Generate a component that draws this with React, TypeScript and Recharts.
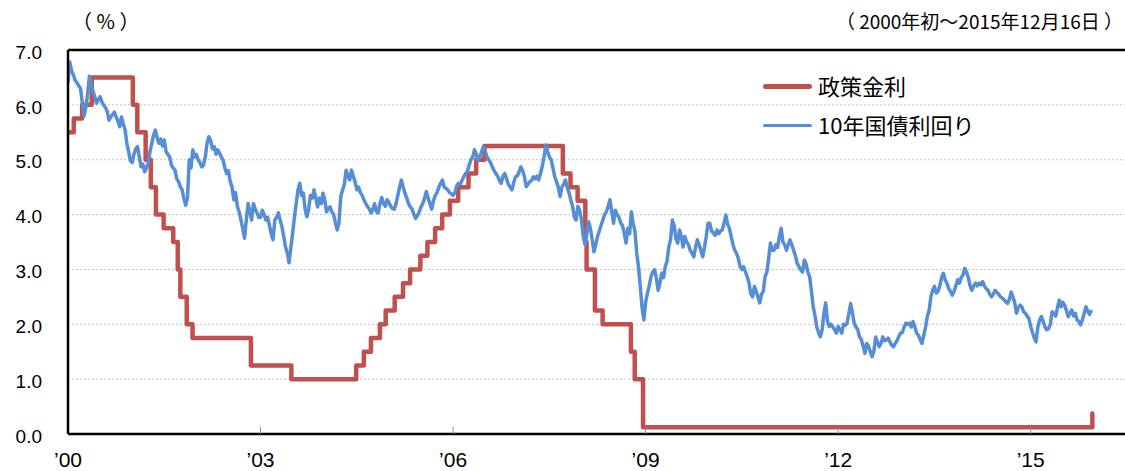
import React from 'react';
import { LineChart, Line, XAxis, YAxis, CartesianGrid, ReferenceLine } from 'recharts';

// policy rate (step changes, decimal year)
const policyDates = [
  2000.0, 2000.09, 2000.22, 2000.37, 2001.01, 2001.08, 2001.21, 2001.29, 2001.37, 2001.49,
  2001.64, 2001.71, 2001.75, 2001.85, 2001.94, 2002.85, 2003.48, 2004.49, 2004.61, 2004.72,
  2004.86, 2004.95, 2005.09, 2005.22, 2005.33, 2005.49, 2005.6, 2005.72, 2005.83, 2005.95,
  2006.08, 2006.24, 2006.36, 2006.49, 2007.71, 2007.83, 2007.94, 2008.06, 2008.08, 2008.21,
  2008.33, 2008.77, 2008.83, 2008.96, 2015.96,
];
const policyRates = [
  5.5, 5.75, 6.0, 6.5, 6.0, 5.5, 5.0, 4.5, 4.0, 3.75,
  3.5, 3.0, 2.5, 2.0, 1.75, 1.25, 1.0, 1.25, 1.5, 1.75,
  2.0, 2.25, 2.5, 2.75, 3.0, 3.25, 3.5, 3.75, 4.0, 4.25,
  4.5, 4.75, 5.0, 5.25, 4.75, 4.5, 4.25, 3.5, 3.0, 2.25,
  2.0, 1.5, 1.0, 0.125, 0.375,
];

// 10年国債利回り, three readings per month
const y2000 = [6.40, 6.78, 6.62, 6.55, 6.45, 6.40, 6.35, 6.30, 6.05, 5.80, 5.95, 6.20, 6.52, 6.40, 6.25, 6.15, 6.03, 6.10, 6.15, 6.05, 6.00, 5.95, 5.88, 5.72, 5.78, 5.82, 5.87, 5.78, 5.70, 5.60, 5.78, 5.65, 5.55, 5.30, 5.15, 4.98];
const y2001 = [4.95, 5.10, 5.20, 5.24, 5.05, 4.87, 4.92, 4.78, 4.85, 4.95, 5.15, 5.30, 5.45, 5.54, 5.40, 5.30, 5.38, 5.25, 5.36, 5.15, 5.10, 5.05, 4.90, 4.85, 4.81, 4.65, 4.60, 4.51, 4.45, 4.30, 4.17, 4.30, 5.00, 4.85, 5.18, 5.05];
const y2002 = [5.10, 5.00, 4.95, 4.87, 4.90, 5.05, 5.30, 5.42, 5.35, 5.20, 5.24, 5.10, 5.18, 5.12, 5.05, 4.99, 4.85, 4.75, 4.80, 4.60, 4.50, 4.27, 4.40, 4.15, 4.05, 3.90, 3.75, 3.57, 3.90, 4.20, 4.05, 3.90, 4.20, 4.10, 4.03, 3.95];
const y2003 = [3.95, 4.08, 4.00, 3.90, 3.95, 3.80, 3.65, 3.54, 3.90, 3.95, 4.03, 3.90, 3.78, 3.60, 3.41, 3.30, 3.12, 3.40, 3.66, 3.95, 4.20, 4.45, 4.57, 4.35, 4.39, 4.10, 3.96, 4.10, 4.35, 4.30, 4.45, 4.30, 4.14, 4.30, 4.20, 4.39];
const y2004 = [4.27, 4.05, 4.11, 4.14, 4.05, 4.00, 3.85, 3.72, 3.85, 4.33, 4.45, 4.55, 4.81, 4.70, 4.63, 4.81, 4.70, 4.60, 4.45, 4.50, 4.40, 4.35, 4.27, 4.20, 4.15, 4.10, 4.03, 4.10, 4.20, 4.05, 4.03, 4.20, 4.31, 4.20, 4.15, 4.27];
const y2005 = [4.22, 4.15, 4.11, 4.10, 4.20, 4.35, 4.50, 4.63, 4.50, 4.39, 4.30, 4.20, 4.14, 4.10, 4.00, 3.93, 3.98, 4.05, 4.14, 4.20, 4.30, 4.42, 4.30, 4.20, 4.10, 4.25, 4.35, 4.40, 4.50, 4.57, 4.63, 4.50, 4.48, 4.45, 4.40, 4.38];
const y2006 = [4.35, 4.40, 4.52, 4.57, 4.55, 4.62, 4.69, 4.75, 4.78, 4.90, 5.00, 5.05, 5.18, 5.10, 4.99, 5.05, 5.15, 5.24, 5.15, 5.05, 5.00, 4.95, 4.87, 4.80, 4.75, 4.70, 4.62, 4.57, 4.70, 4.75, 4.65, 4.55, 4.50, 4.45, 4.58, 4.69];
const y2007 = [4.70, 4.78, 4.87, 4.80, 4.70, 4.51, 4.55, 4.60, 4.62, 4.69, 4.65, 4.70, 4.63, 4.75, 4.88, 5.05, 5.27, 5.15, 5.05, 5.00, 4.85, 4.69, 4.60, 4.50, 4.33, 4.50, 4.55, 4.63, 4.50, 4.40, 4.27, 4.15, 3.95, 3.90, 4.15, 4.08];
const y2008 = [3.90, 3.60, 3.45, 3.65, 3.87, 3.75, 3.55, 3.32, 3.45, 3.60, 3.70, 3.80, 3.90, 4.00, 4.05, 4.15, 4.27, 4.05, 3.84, 4.08, 4.00, 3.95, 3.85, 3.80, 3.66, 3.48, 3.75, 3.65, 4.05, 3.84, 3.70, 3.30, 3.05, 2.69, 2.30, 2.08];
const y2009 = [2.40, 2.57, 2.70, 2.87, 2.95, 2.99, 2.85, 2.62, 2.75, 2.93, 2.85, 3.05, 3.15, 3.41, 3.55, 3.90, 3.80, 3.55, 3.48, 3.72, 3.60, 3.41, 3.60, 3.50, 3.45, 3.35, 3.30, 3.23, 3.40, 3.54, 3.45, 3.35, 3.23, 3.40, 3.60, 3.84];
const y2010 = [3.84, 3.70, 3.66, 3.62, 3.72, 3.65, 3.70, 3.72, 3.85, 3.99, 3.82, 3.75, 3.60, 3.45, 3.35, 3.29, 3.20, 3.05, 3.00, 3.05, 2.95, 2.87, 2.75, 2.55, 2.50, 2.69, 2.60, 2.50, 2.39, 2.55, 2.60, 2.87, 2.95, 3.20, 3.48, 3.35];
const y2011 = [3.35, 3.45, 3.40, 3.60, 3.75, 3.50, 3.45, 3.35, 3.45, 3.54, 3.45, 3.35, 3.25, 3.11, 3.05, 2.99, 2.95, 3.17, 3.10, 2.95, 2.87, 2.60, 2.32, 2.15, 1.95, 1.85, 1.77, 1.90, 2.20, 2.39, 2.05, 1.96, 2.00, 1.95, 1.90, 1.84];
const y2012 = [1.96, 1.90, 1.84, 2.00, 1.98, 2.02, 2.20, 2.38, 2.20, 2.02, 1.95, 1.90, 1.77, 1.72, 1.60, 1.47, 1.65, 1.60, 1.50, 1.41, 1.50, 1.77, 1.68, 1.59, 1.65, 1.77, 1.70, 1.71, 1.75, 1.68, 1.62, 1.59, 1.65, 1.70, 1.78, 1.84];
const y2013 = [1.85, 1.95, 2.02, 2.00, 2.02, 1.95, 2.05, 1.95, 1.84, 1.80, 1.72, 1.65, 1.80, 1.95, 2.14, 2.25, 2.50, 2.62, 2.69, 2.57, 2.60, 2.70, 2.85, 2.93, 2.81, 2.75, 2.65, 2.60, 2.53, 2.60, 2.70, 2.81, 2.75, 2.85, 2.90, 3.02];
const y2014 = [2.95, 2.85, 2.70, 2.62, 2.70, 2.75, 2.70, 2.75, 2.72, 2.78, 2.70, 2.65, 2.62, 2.55, 2.50, 2.55, 2.62, 2.58, 2.55, 2.50, 2.48, 2.45, 2.41, 2.38, 2.45, 2.59, 2.50, 2.40, 2.20, 2.30, 2.35, 2.32, 2.23, 2.20, 2.15, 2.10];
const y2015 = [1.96, 1.85, 1.75, 1.68, 1.95, 2.08, 2.14, 2.05, 1.95, 1.90, 1.92, 2.00, 2.23, 2.20, 2.15, 2.30, 2.44, 2.32, 2.40, 2.35, 2.25, 2.14, 2.20, 2.26, 2.15, 2.20, 2.08, 2.05, 1.99, 2.08, 2.20, 2.32, 2.23, 2.18, 2.26];

const yieldYears = [y2000, y2001, y2002, y2003, y2004, y2005, y2006, y2007, y2008, y2009, y2010, y2011, y2012, y2013, y2014, y2015];

const xTicks = [2000, 2003, 2006, 2009, 2012, 2015];
const yTicks = [0, 1, 2, 3, 4, 5, 6, 7];

const policyData = policyDates.map((t, i) => ({ t, rate: policyRates[i] }));
const yieldData = yieldYears.flatMap((vals, yi) =>
  vals.map((v, k) => ({ t: 2000 + yi + k / 36, v }))
);

const RED = '#C0504D';
const BLUE = '#558ED5';
const jp = '"Noto Sans CJK JP", "Liberation Sans", sans-serif';

const XTick = (props: any) => {
  const { x, y, payload } = props;
  const label = '\u2019' + String(payload.value).slice(2);
  return (
    <g>
      {payload.value !== 2000 && <line x1={x} x2={x} y1={y} y2={y - 7} stroke="#8c8c8c" strokeWidth={1} />}
      <text x={x} y={y + 33} textAnchor="middle" fontSize={21} fill="#000"
        fontFamily='"Liberation Sans Narrow", "Liberation Sans", sans-serif'>{label}</text>
    </g>
  );
};

export default function App() {
  return (
    <div style={{ position: 'absolute', left: 0, top: 0, width: 1125, height: 471, overflow: 'hidden', background: '#fff' }}>
      <LineChart width={1127} height={471} margin={{ top: 50, right: 0, bottom: 0, left: 0 }}>
        <CartesianGrid vertical={false} stroke="#c4c4c4" strokeDasharray="2 2" />
        <XAxis dataKey="t" type="number" domain={[2000, 2016.5]} ticks={xTicks} allowDataOverflow
          height={37} tickSize={0} tickMargin={0} tickLine={false}
          axisLine={{ stroke: '#000', strokeWidth: 2.5 }} tick={<XTick />} interval={0} />
        <YAxis type="number" domain={[0, 7]} ticks={yTicks} width={68} tickSize={0} tickMargin={26}
          tickLine={false} axisLine={{ stroke: '#000', strokeWidth: 2.5 }} interval={0}
          tickFormatter={(v: number) => v.toFixed(1)}
          tick={{ fontSize: 19, fill: '#000', fontFamily: '"Liberation Sans", Arial, sans-serif', dy: 2 }} />
        <ReferenceLine y={7} stroke="#000" strokeWidth={2.5} />
        <Line data={policyData} dataKey="rate" type="stepAfter" stroke={RED} strokeWidth={4.5}
          dot={false} isAnimationActive={false} strokeLinejoin="round" strokeLinecap="round" />
        <Line data={yieldData} dataKey="v" type="linear" stroke={BLUE} strokeWidth={3.5}
          dot={false} isAnimationActive={false} strokeLinejoin="round" />
      </LineChart>

      <div style={{ position: 'absolute', left: 72, top: 6, fontSize: 20, fontFamily: jp, color: '#000' }}>（ % ）</div>
      <div style={{ position: 'absolute', right: 2, top: 7, fontSize: 19, fontFamily: jp, color: '#000', whiteSpace: 'nowrap' }}>
        （ 2000年初～2015年12月16日 ）
      </div>

      <div style={{ position: 'absolute', left: 763, top: 84, width: 49, height: 5, borderRadius: 3, background: RED }} />
      <div style={{ position: 'absolute', left: 818, top: 71, fontSize: 22, lineHeight: '28px', fontFamily: jp, color: '#000' }}>政策金利</div>
      <div style={{ position: 'absolute', left: 763, top: 124, width: 49, height: 3, borderRadius: 2, background: BLUE }} />
      <div style={{ position: 'absolute', left: 818, top: 110, fontSize: 22, lineHeight: '28px', fontFamily: jp, color: '#000' }}>10年国債利回り</div>
    </div>
  );
}
